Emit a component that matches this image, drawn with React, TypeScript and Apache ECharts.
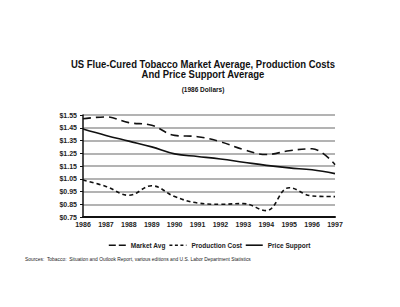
import React, { useEffect, useRef } from "react";
import * as echarts from "echarts";

const years = ["1986", "1987", "1988", "1989", "1990", "1991", "1992", "1993", "1994", "1995", "1996", "1997"];
const marketAvg = [1.52, 1.535, 1.49, 1.47, 1.39, 1.38, 1.34, 1.28, 1.24, 1.27, 1.285, 1.16];
const productionCost = [1.04, 0.99, 0.92, 0.995, 0.91, 0.86, 0.85, 0.855, 0.8, 0.98, 0.915, 0.91];
const priceSupport = [1.44, 1.39, 1.345, 1.3, 1.245, 1.225, 1.205, 1.18, 1.155, 1.135, 1.12, 1.09];

const titleText = "US Flue-Cured Tobacco Market Average, Production Costs\nAnd Price Support Average";
const subTitle = "(1986 Dollars)";
const sourceText = "Sources:  Tobacco:  Situation and Outlook Report, various editions and U.S. Labor Department Statistics";

const FONT = "'Liberation Sans', Arial, sans-serif";
const HIDDEN = { color: "rgba(0,0,0,0)", borderWidth: 0, opacity: 0 };

export default function App() {
  const ref = useRef<HTMLDivElement>(null);
  useEffect(() => {
    if (!ref.current) return;
    const chart = echarts.init(ref.current, null, { renderer: "svg" });
    chart.setOption({
      animation: false,
      backgroundColor: "#ffffff",
      grid: { left: 83, right: 65, top: 115, bottom: 90, containLabel: false },
      xAxis: {
        type: "category",
        data: years,
        boundaryGap: false,
        axisLine: { lineStyle: { color: "#111", width: 2 } },
        axisTick: { show: false },
        axisLabel: { color: "#222", fontWeight: "bold", fontSize: 7, fontFamily: FONT, margin: 4 },
        splitLine: { show: false },
      },
      yAxis: {
        type: "value",
        min: 0.75,
        max: 1.55,
        interval: 0.1,
        axisLine: { show: true, lineStyle: { color: "#111", width: 1.5 } },
        axisTick: { show: true, length: 3, lineStyle: { color: "#111" } },
        axisLabel: {
          color: "#222",
          fontWeight: "bold",
          fontSize: 7,
          fontFamily: FONT,
          margin: 6,
          formatter: (v: number) => "$" + v.toFixed(2),
        },
        splitLine: { show: true, lineStyle: { color: "#9a9a9a", width: 1.5 } },
      },
      legend: {
        left: 103,
        top: 236,
        itemWidth: 17,
        itemHeight: 8,
        itemGap: 3,
        itemStyle: HIDDEN,
        data: [
          { name: "Market Avg", itemStyle: HIDDEN, lineStyle: { type: [7, 3], width: 1.6, color: "#111" } },
          { name: "Production Cost", itemStyle: HIDDEN, lineStyle: { type: [3, 2.5], width: 1.6, color: "#111" } },
          { name: "Price Support", itemStyle: HIDDEN, lineStyle: { type: "solid", width: 1.6, color: "#111" } },
        ],
        textStyle: { color: "#222", fontWeight: "bold", fontSize: 6.5, fontFamily: FONT },
      },
      graphic: [
        {
          type: "text",
          x: 203,
          y: 59,
          scaleX: 0.95,
          style: {
            text: titleText,
            textAlign: "center",
            fontFamily: FONT,
            fontWeight: "bold",
            fontSize: 10,
            lineHeight: 10.5,
            fill: "#111",
          },
        },
        {
          type: "text",
          x: 203,
          y: 86,
          style: { text: subTitle, textAlign: "center", fontFamily: FONT, fontWeight: "bold", fontSize: 6.5, fill: "#111" },
        },
        { type: "text", x: 25, y: 257, style: { text: sourceText, fontFamily: FONT, fontSize: 4.9, fill: "#222" } },
      ],
      series: [
        {
          name: "Market Avg",
          type: "line",
          data: marketAvg,
          smooth: 0.4,
          showSymbol: false,
          lineStyle: { color: "#111", width: 1.6, type: [8, 5] },
          itemStyle: { color: "#111" },
        },
        {
          name: "Production Cost",
          type: "line",
          data: productionCost,
          smooth: 0.4,
          showSymbol: false,
          lineStyle: { color: "#111", width: 1.6, type: [4, 3] },
          itemStyle: { color: "#111" },
        },
        {
          name: "Price Support",
          type: "line",
          data: priceSupport,
          smooth: 0.4,
          showSymbol: false,
          lineStyle: { color: "#111", width: 1.6 },
          itemStyle: { color: "#111" },
        },
      ],
    });
    return () => chart.dispose();
  }, []);
  return <div ref={ref} style={{ position: "fixed", left: 0, top: 0, width: 400, height: 307 }} />;
}
